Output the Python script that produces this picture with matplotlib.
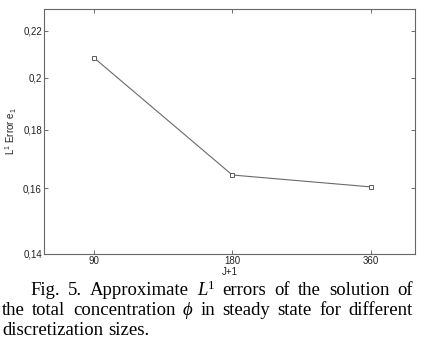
import matplotlib
matplotlib.use("Agg")
import matplotlib.pyplot as plt
from matplotlib.ticker import FixedLocator, FixedFormatter, NullLocator

# Data
x_vals = [90, 180, 360]
errors = [0.2083, 0.1643, 0.1604]
x_ticks = [90, 180, 360]
x_ticklabels = ["90", "180", "360"]
y_ticks = [0.14, 0.16, 0.18, 0.2, 0.22]
y_ticklabels = ["0,14", "0,16", "0,18", "0,2", "0,22"]

plt.rcParams['font.family'] = ['Liberation Sans', 'DejaVu Sans']
plt.rcParams['mathtext.fontset'] = 'custom'
plt.rcParams['mathtext.rm'] = 'Liberation Sans'

fig = plt.figure(figsize=(4.24, 3.49), dpi=100)
ax = fig.add_axes([44/424, 1-254/349, 371/424, 245/349])

ax.plot(x_vals, errors, color='#6a6a6a', lw=0.8, marker='s', ms=3.5,
        mfc='white', mec='#444444', mew=0.6)
ax.set_xscale('log')
ax.set_yscale('log')
ax.set_xlim(70, 450)
ax.set_ylim(0.14, 0.23)

ax.xaxis.set_major_locator(FixedLocator(x_ticks))
ax.xaxis.set_major_formatter(FixedFormatter(x_ticklabels))
ax.xaxis.set_minor_locator(NullLocator())
ax.yaxis.set_major_locator(FixedLocator(y_ticks))
ax.yaxis.set_major_formatter(FixedFormatter(y_ticklabels))
ax.yaxis.set_minor_locator(NullLocator())

ax.tick_params(direction='in', length=3, width=0.6, color='#555555',
               labelsize=7, pad=1.5, top=True, right=True, labelcolor='#222222')
for s in ax.spines.values():
    s.set_color('#666666')
    s.set_linewidth(0.8)

ax.set_xlabel("J+1", fontsize=7, labelpad=1, color='#222222')
ax.set_ylabel(r"L$^1$ Error e$_1$", fontsize=7, labelpad=3, color='#222222')

# Caption: each word is a list of segments (text, style, size_factor, rise_px)
FS = 13.5
N = ('normal', 1.0, 0)
def w(s):
    return [(s,) + N]
line1 = [w("Fig."), w("5."), w("Approximate"),
         [("L", 'italic', 1.0, 0), ("1", 'normal', 0.7, 6)],
         w("errors"), w("of"), w("the"), w("solution"), w("of")]
line2 = [w("the"), w("total"), w("concentration"), [("\u03d5", 'italic', 1.0, 0)],
         w("in"), w("steady"), w("state"), w("for"), w("different")]
line3 = [w("discretization"), w("sizes.")]
lines = [(line1, 30, 413, True), (line2, 2, 413, True), (line3, 2, None, False)]
baselines = [295, 315, 335]

fig.canvas.draw()
renderer = fig.canvas.get_renderer()
W, H = 424, 349
for (words, x0, x1, justify), yb in zip(lines, baselines):
    objs = []
    widths = []
    for word in words:
        segs = []
        wsum = 0
        for (s, style, fac, rise) in word:
            t = fig.text(0, 1 - (yb - rise)/H, s, fontsize=FS*fac,
                         family=['Liberation Serif', 'DejaVu Serif'],
                         style=style, va='baseline', ha='left')
            bb = t.get_window_extent(renderer)
            segs.append((t, wsum))
            wsum += bb.width
        objs.append(segs)
        widths.append(wsum)
    if justify:
        gap = (x1 - x0 - sum(widths)) / (len(words) - 1)
    else:
        gap = FS * 100/72 * 0.25
    xpos = x0
    for segs, wd in zip(objs, widths):
        for t, off in segs:
            t.set_x((xpos + off)/W)
        xpos += wd + gap

fig.savefig("out.png", dpi=100)
